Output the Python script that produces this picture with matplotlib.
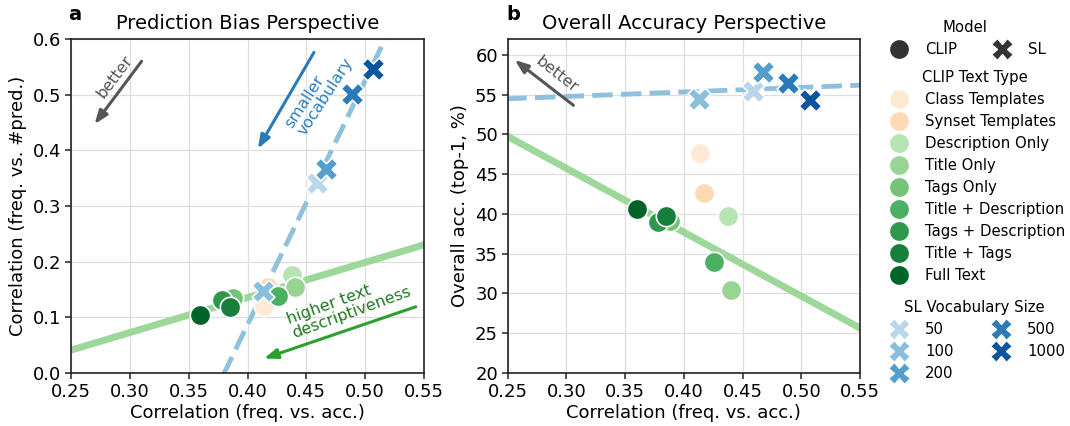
import numpy as np
import matplotlib
matplotlib.use("Agg")
import matplotlib.pyplot as plt
from matplotlib.lines import Line2D
import seaborn as sns

# ---------------- data ----------------
text_types = ["Class Templates", "Synset Templates", "Description Only", "Title Only",
              "Tags Only", "Title + Description", "Tags + Description", "Title + Tags",
              "Full Text"]
clip_corr_acc = [0.414, 0.417, 0.438, 0.440, 0.388, 0.426, 0.378, 0.385, 0.360]
clip_corr_pred = [0.120, 0.155, 0.176, 0.154, 0.135, 0.138, 0.132, 0.119, 0.105]
clip_overall_acc = [47.7, 42.6, 39.8, 30.5, 39.1, 34.0, 39.0, 39.7, 40.6]

vocab_sizes = ["50", "100", "200", "500", "1000"]
sl_corr_acc = [0.459, 0.413, 0.467, 0.489, 0.507]
sl_corr_pred = [0.342, 0.147, 0.366, 0.502, 0.546]
sl_overall_acc = [55.4, 54.5, 57.9, 56.5, 54.3]

xticks = [0.25, 0.30, 0.35, 0.40, 0.45, 0.50, 0.55]
yticks_a = [0.0, 0.1, 0.2, 0.3, 0.4, 0.5, 0.6]
yticks_b = [20, 25, 30, 35, 40, 45, 50, 55, 60]

# ---------------- colours ----------------
oranges = sns.color_palette("Oranges", 9)[:2]
greens = sns.color_palette("Greens", 9)[2:]
clip_colors = list(oranges) + list(greens)
blues = sns.color_palette("Blues", 6)[1:]
green_line = sns.color_palette("Greens", 9)[3]
blue_line = sns.color_palette("Blues", 6)[2]

plt.rcParams["font.family"] = ["DejaVu Sans"]

W, H = 1070, 426
fig = plt.figure(figsize=(W / 100, H / 100), dpi=100)
ax1 = fig.add_axes([71 / W, 1 - 373 / H, (424 - 71) / W, (373 - 39) / H])
ax2 = fig.add_axes([507.7 / W, 1 - 373 / H, (860 - 507.7) / W, (373 - 39) / H])

S = 215
green_idx = list(range(2, 9))


def style(ax):
    ax.set_axisbelow(True)
    ax.grid(True, color="#dddddd", lw=0.9)
    for sp in ax.spines.values():
        sp.set_color("#222222")
        sp.set_linewidth(1.2)
    ax.tick_params(labelsize=13, length=4, width=1.1, color="#222222", pad=3)
    ax.set_xlim(0.25, 0.55)
    ax.set_xticks(xticks)
    ax.set_xticklabels([f"{t:.2f}" for t in xticks])
    ax.set_xlabel("Correlation (freq. vs. acc.)", fontsize=13, labelpad=2)


def draw(ax, clip_y, sl_y):
    xs = np.array([0.2, 0.6])
    gx = np.array([clip_corr_acc[i] for i in green_idx])
    gy = np.array([clip_y[i] for i in green_idx])
    p = np.polyfit(gx, gy, 1)
    ax.plot(xs, np.polyval(p, xs), color=green_line, lw=5, alpha=0.95,
            solid_capstyle="butt", zorder=2)
    p2 = np.polyfit(sl_corr_acc, sl_y, 1)
    ax.plot(xs, np.polyval(p2, xs), color=blue_line, lw=3.5, ls=(0, (4.2, 1.7)),
            alpha=0.95, zorder=2)
    for i in range(len(text_types)):
        ax.scatter(clip_corr_acc[i], clip_y[i], s=S, color=clip_colors[i],
                   edgecolor="white", linewidth=1.2, marker="o", zorder=3)
    for i in range(len(vocab_sizes)):
        ax.scatter(sl_corr_acc[i], sl_y[i], s=S * 1.25, color=blues[i],
                   edgecolor="white", linewidth=1.2, marker="X", zorder=4)


style(ax1)
style(ax2)
draw(ax1, clip_corr_pred, sl_corr_pred)
draw(ax2, clip_overall_acc, sl_overall_acc)

ax1.set_ylim(0, 0.6)
ax1.set_yticks(yticks_a)
ax1.set_yticklabels([f"{t:.1f}" for t in yticks_a])
ax1.set_ylabel("Correlation (freq. vs. #pred.)", fontsize=13, labelpad=4)
ax1.set_title("Prediction Bias Perspective", fontsize=14, pad=7)

ax2.set_ylim(20, 62)
ax2.set_yticks(yticks_b)
ax2.set_ylabel("Overall acc. (top-1, %)", fontsize=13, labelpad=4)
ax2.set_title("Overall Accuracy Perspective", fontsize=14, pad=7)

fig.text(68 / W, 1 - 15 / H, "a", fontsize=14, fontweight="bold", va="center")
fig.text(506 / W, 1 - 15 / H, "b", fontsize=14, fontweight="bold", va="center")

# ---------------- annotations ----------------
gray = "#555555"
ap = dict(arrowstyle="-|>,head_length=0.8,head_width=0.3", lw=2.2, shrinkA=0, shrinkB=0)
ax1.annotate("", xy=(0.270, 0.447), xytext=(0.310, 0.560),
             arrowprops=dict(ap, color=gray), zorder=5)
ax1.text(0.2875, 0.533, "better", rotation=53, color=gray, fontsize=11.5,
         ha="center", va="center", rotation_mode="anchor")
ax1.annotate("", xy=(0.4088, 0.403), xytext=(0.4565, 0.576),
             arrowprops=dict(ap, color="#2a7ab9"), zorder=5)
ax1.text(0.461, 0.503, "smaller\nvocabulary", rotation=57, color="#2b7fbf",
         fontsize=11.5, ha="center", va="center", rotation_mode="anchor",
         multialignment="left", linespacing=1.0)
ax1.annotate("", xy=(0.414, 0.026), xytext=(0.543, 0.119),
             arrowprops=dict(ap, color="#2ca02c"), zorder=5)
ax1.text(0.486, 0.122, "higher text\ndescriptiveness", rotation=20,
         color="#1f7a1f", fontsize=11.5, ha="center", va="center",
         rotation_mode="anchor", multialignment="left", linespacing=1.0)

ax2.annotate("", xy=(0.256, 59.36), xytext=(0.306, 53.66),
             arrowprops=dict(ap, color=gray), zorder=5)
ax2.text(0.2917, 57.47, "better", rotation=-38, color=gray, fontsize=11.5,
         ha="center", va="center", rotation_mode="anchor")

# ---------------- legends ----------------
def mk(marker, color, ms=14.5):
    return Line2D([], [], ls="none", marker=marker, markersize=ms, color=color,
                  markeredgecolor="white", markeredgewidth=1.0)


LF = 10.7
common = dict(frameon=False, fontsize=LF, title_fontsize=LF, handlelength=2.0,
              handletextpad=0.75, labelspacing=0.47, borderpad=0.4,
              borderaxespad=0.0, loc="upper left")
lx = (899 - 1.4 * LF * 100 / 72) / W

leg1 = fig.legend(handles=[mk("o", "#333333"), mk("X", "#333333", 15.5)],
                  labels=["CLIP", "SL"], title="Model", ncol=2, columnspacing=2.0,
                  bbox_to_anchor=(lx, 1 - 14 / H), **common)
leg2 = fig.legend(handles=[mk("o", c) for c in clip_colors], labels=text_types,
                  title="CLIP Text Type", ncol=1,
                  bbox_to_anchor=(lx, 1 - 64 / H), **common)
leg3 = fig.legend(handles=[mk("X", c, 15.5) for c in blues], labels=vocab_sizes,
                  title="SL Vocabulary Size", ncol=2, columnspacing=2.2,
                  bbox_to_anchor=(lx, 1 - 294.5 / H), **common)

fig.savefig("out.png", dpi=100)
